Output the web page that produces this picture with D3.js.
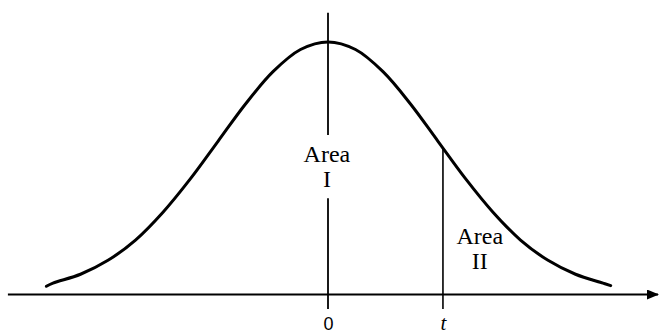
<!DOCTYPE html>
<html>
<head>
<meta charset="utf-8">
<script src="https://cdn.jsdelivr.net/npm/d3@7"></script>
<style>
  body { margin: 0; background: #fff; }
  svg { display: block; }
</style>
</head>
<body>
<div id="chart"></div>
<script>
// curve: z position and height of the density
var curveX = [-2.56, -2.5, -2.25, -2, -1.75, -1.5, -1.25, -1, -0.75, -0.5, -0.25, 0,
    0.25, 0.5, 0.75, 1, 1.25, 1.5, 1.75, 2, 2.25, 2.5, 2.57];
var curveY = [0.013, 0.018, 0.032, 0.054, 0.086, 0.130, 0.183, 0.242, 0.301, 0.352, 0.387, 0.399,
    0.387, 0.352, 0.301, 0.242, 0.183, 0.130, 0.086, 0.054, 0.032, 0.018, 0.014];

// the two marked points on the axis
var tickValues = [0, 1.045];
var tickLabels = ["0", "t"];
var tHeight = 0.231;

// area labels
var areaLabels = [["Area", "I"], ["Area", "II"]];

var width = 660,
    height = 335;

var x = d3.scaleLinear()
    .domain([-3, 3])
    .range([-2, 658]);

var y = d3.scaleLinear()
    .domain([0, 0.4])
    .range([294.5, 41.3]);

var svg = d3.select("#chart")
    .append("svg")
    .attr("width", width)
    .attr("height", height);

svg.append("defs").append("marker")
    .attr("id", "arrow")
    .attr("viewBox", "0 0 12 10")
    .attr("refX", 11)
    .attr("refY", 5)
    .attr("markerWidth", 12)
    .attr("markerHeight", 10)
    .attr("markerUnits", "userSpaceOnUse")
    .attr("orient", "auto")
    .append("path")
    .attr("d", "M0,0L12,5L0,10Z")
    .attr("fill", "#000");

// horizontal axis with arrow
svg.append("line")
    .attr("x1", x(-2.91))
    .attr("x2", x(3))
    .attr("y1", y(0))
    .attr("y2", y(0))
    .attr("stroke", "#000")
    .attr("stroke-width", 2)
    .attr("marker-end", "url(#arrow)");

// tick labels
var axis = d3.axisBottom(x)
    .tickValues(tickValues)
    .tickSize(0)
    .tickPadding(0)
    .tickFormat(function (d, i) { return tickLabels[i]; });

var gAxis = svg.append("g")
    .attr("transform", "translate(0," + y(0) + ")")
    .call(axis);
gAxis.select(".domain").remove();
gAxis.attr("font-size", null).attr("font-family", null);
gAxis.selectAll("text")
    .attr("fill", "#000")
    .attr("y", 35.5)
    .attr("dy", 0)
    .attr("font-family", "Liberation Sans, DejaVu Sans, sans-serif")
    .attr("font-size", 18);
gAxis.selectAll("text")
    .filter(function (d, i) { return i === 1; })
    .attr("font-family", "Liberation Serif, serif")
    .attr("font-style", "italic")
    .attr("font-size", 21);

// vertical line at 0 (broken around the label)
svg.append("line")
    .attr("x1", x(0)).attr("x2", x(0))
    .attr("y1", y(0.445)).attr("y2", y(0.252))
    .attr("stroke", "#000").attr("stroke-width", 1.8);
svg.append("line")
    .attr("x1", x(0)).attr("x2", x(0))
    .attr("y1", y(0.152)).attr("y2", y(-0.023))
    .attr("stroke", "#000").attr("stroke-width", 1.8);

// vertical line at t
svg.append("line")
    .attr("x1", x(tickValues[1])).attr("x2", x(tickValues[1]))
    .attr("y1", y(tHeight)).attr("y2", y(-0.023))
    .attr("stroke", "#000").attr("stroke-width", 1.6);

// the curve
var line = d3.line()
    .x(function (d) { return x(d[0]); })
    .y(function (d) { return y(d[1]); })
    .curve(d3.curveCatmullRom);

svg.append("path")
    .datum(d3.zip(curveX, curveY))
    .attr("d", line)
    .attr("fill", "none")
    .attr("stroke", "#000")
    .attr("stroke-width", 3)
    .attr("stroke-linecap", "round");

// area labels
var labelPos = [[-0.01, 0.209], [1.38, 0.08]];
areaLabels.forEach(function (lab, i) {
    var t = svg.append("text")
        .attr("x", x(labelPos[i][0]))
        .attr("y", y(labelPos[i][1]))
        .attr("text-anchor", "middle")
        .style("font-family", "Liberation Serif, serif")
        .style("font-size", "24px")
        .attr("fill", "#000");
    lab.forEach(function (s, j) {
        t.append("tspan")
            .attr("x", x(labelPos[i][0]))
            .attr("dy", j === 0 ? 0 : 25)
            .text(s);
    });
});
</script>
</body>
</html>
